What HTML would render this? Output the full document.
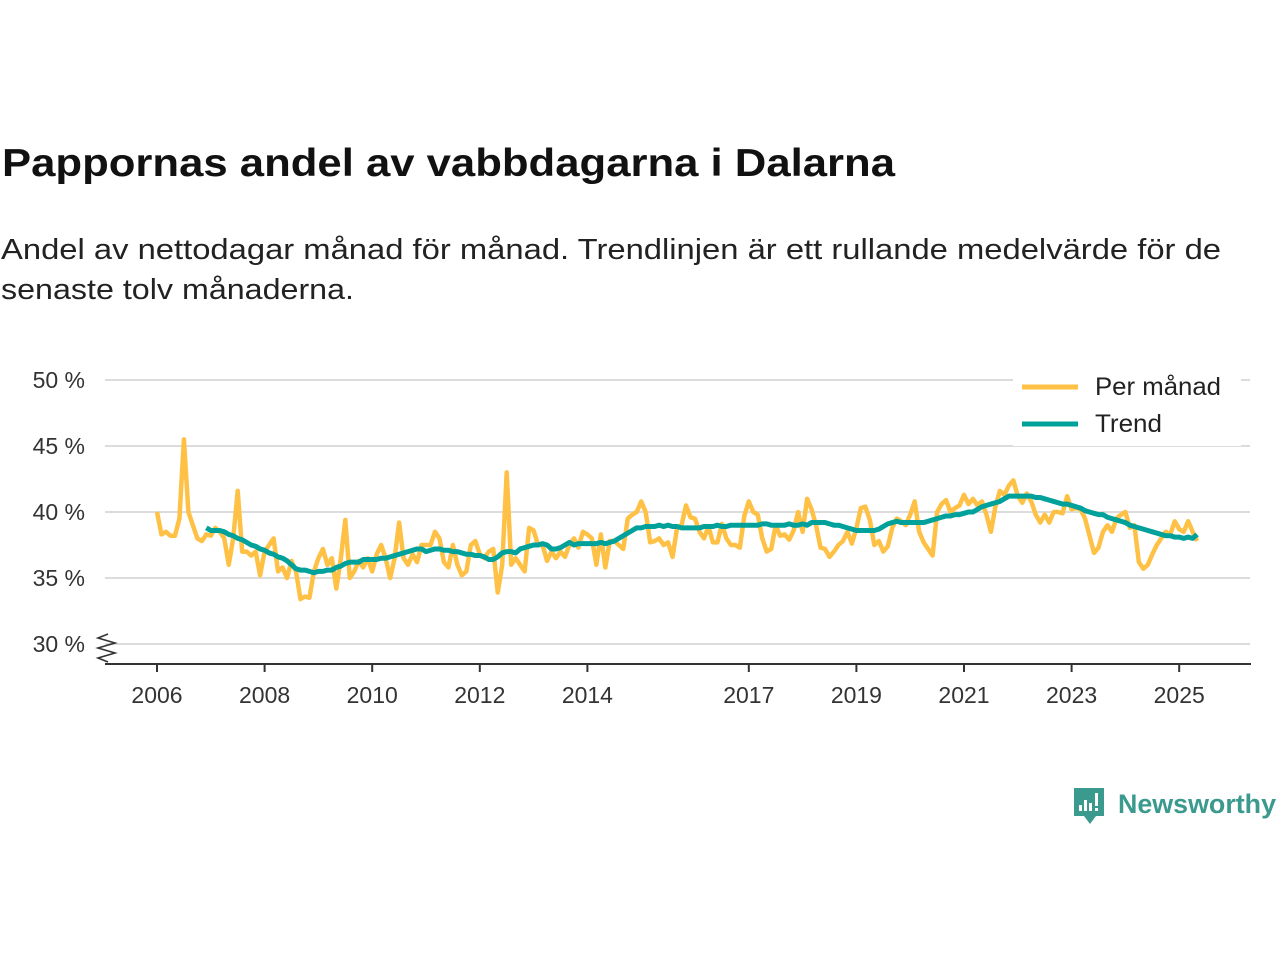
<!DOCTYPE html>
<html><head><meta charset="utf-8"><style>
body{margin:0;background:#fff;width:1280px;height:960px;overflow:hidden;font-family:"Liberation Sans",sans-serif;}
</style></head><body>
<svg id="chart" width="1280" height="960">
<text x="2" y="176" font-size="39" font-weight="bold" fill="#111" textLength="893" lengthAdjust="spacingAndGlyphs">Pappornas andel av vabbdagarna i Dalarna</text>
<text x="1" y="259" font-size="29" fill="#222" textLength="1220" lengthAdjust="spacingAndGlyphs">Andel av nettodagar månad för månad. Trendlinjen är ett rullande medelvärde för de</text>
<text x="1" y="299" font-size="29" fill="#222" textLength="353" lengthAdjust="spacingAndGlyphs">senaste tolv månaderna.</text>
<g id="grid"></g><g id="series"></g>
<g>
<rect x="1013" y="368" width="228" height="78" fill="#fff"/>
<line x1="1022" y1="387" x2="1078" y2="387" stroke="#ffc145" stroke-width="5"/>
<text x="1095" y="395" font-size="25" fill="#222" textLength="126" lengthAdjust="spacingAndGlyphs">Per månad</text>
<line x1="1022" y1="424" x2="1078" y2="424" stroke="#00a19a" stroke-width="5"/>
<text x="1095" y="432" font-size="25" fill="#222" textLength="67" lengthAdjust="spacingAndGlyphs">Trend</text>
</g>
<path d="M108 634 L98 638 L115 643 L98 648 L115 653 L98 658 L108 662" fill="none" stroke="#333" stroke-width="1.6"/>
<g>
<path d="M1074 788 h30 v28 h-8 l-6 8 l-6 -8 h-10 z" fill="#3a9a8e"/>
<rect x="1079" y="805" width="3" height="6" fill="#fff"/><rect x="1084" y="800" width="3" height="11" fill="#fff"/><rect x="1089" y="803" width="3" height="8" fill="#fff"/><rect x="1095" y="793" width="3" height="13" fill="#fff"/><rect x="1095" y="808" width="3" height="3" fill="#fff"/>
<text x="1118" y="813" font-size="27" font-weight="bold" fill="#3a9a8e" textLength="158" lengthAdjust="spacingAndGlyphs">Newsworthy</text>
</g>
</svg>
<script>
const startYear = 2006;
const yTicks = [30, 35, 40, 45, 50];
const xTickYears = [2006, 2008, 2010, 2012, 2014, 2017, 2019, 2021, 2023, 2025];
const monthly = [
40.0,38.3,38.5,38.2,38.2,39.5,45.5,40.0,39.0,38.0,37.8,38.3,
38.2,38.8,38.5,38.0,36.0,38.0,41.6,37.0,37.0,36.7,37.0,35.2,
37.0,37.5,38.0,35.5,35.8,35.0,36.3,35.5,33.4,33.6,33.5,35.5,
36.5,37.2,36.0,36.5,34.2,36.5,39.4,35.0,35.5,36.3,35.8,36.5,
35.5,36.8,37.5,36.5,35.0,36.5,39.2,36.5,36.0,36.8,36.2,37.5,
37.5,37.5,38.5,38.0,36.2,35.8,37.5,36.0,35.2,35.5,37.5,37.8,
36.8,36.5,37.0,37.2,33.9,36.0,43.0,36.0,36.5,36.0,35.5,38.8,
38.6,37.5,37.5,36.3,37.0,36.5,37.0,36.6,37.5,38.0,37.3,38.5,
38.3,38.0,36.0,38.3,35.8,37.8,37.8,37.5,37.2,39.5,39.8,40.0,
40.8,40.0,37.7,37.8,38.0,37.5,37.7,36.6,38.8,39.0,40.5,39.6,
39.5,38.5,38.0,38.9,37.7,37.7,39.1,38.0,37.5,37.5,37.3,39.7,
40.8,40.0,39.8,38.0,37.0,37.2,39.0,38.2,38.3,37.9,38.6,40.0,
38.5,41.0,40.2,39.0,37.3,37.2,36.6,37.0,37.5,37.8,38.5,37.6,
38.8,40.3,40.4,39.4,37.5,37.8,37.0,37.4,38.8,39.5,39.3,39.0,
39.8,40.8,38.5,37.7,37.2,36.7,40.0,40.6,40.9,40.0,40.3,40.5,
41.3,40.6,41.0,40.5,40.8,39.8,38.5,40.4,41.6,41.3,42.0,42.4,
41.2,40.7,41.4,40.8,39.8,39.2,39.8,39.2,40.0,40.0,39.9,41.2,
40.2,40.3,40.2,39.5,38.2,36.9,37.3,38.5,39.0,38.5,39.5,39.8,
40.0,38.8,39.0,36.2,35.7,36.0,36.8,37.5,38.0,38.5,38.3,39.3,
38.7,38.5,39.3,38.5,37.8];
const trendStart = 11;
const trend = [38.8,
38.6,38.6,38.6,38.5,38.3,38.2,38.0,37.9,37.7,37.5,37.4,37.2,
37.1,36.9,36.8,36.6,36.5,36.3,36.0,35.7,35.6,35.6,35.5,35.4,
35.5,35.5,35.6,35.6,35.8,35.9,36.1,36.2,36.2,36.2,36.4,36.4,
36.4,36.4,36.5,36.5,36.6,36.7,36.8,36.9,37.0,37.1,37.2,37.2,
37.0,37.1,37.2,37.2,37.1,37.1,37.0,37.0,36.9,36.8,36.8,36.7,
36.7,36.6,36.4,36.4,36.6,36.9,37.0,37.0,36.9,37.2,37.3,37.4,
37.5,37.5,37.6,37.5,37.2,37.2,37.3,37.5,37.7,37.5,37.6,37.6,
37.6,37.6,37.6,37.7,37.6,37.7,37.8,38.0,38.2,38.4,38.6,38.8,
38.8,38.9,38.9,38.9,39.0,38.9,39.0,38.9,38.9,38.8,38.8,38.8,
38.8,38.8,38.9,38.9,38.9,39.0,38.9,38.9,39.0,39.0,39.0,39.0,
39.0,39.0,39.0,39.1,39.1,39.0,39.0,39.0,39.0,39.1,39.0,39.0,
39.1,39.0,39.2,39.2,39.2,39.2,39.1,39.0,39.0,38.9,38.8,38.7,
38.6,38.6,38.6,38.6,38.6,38.7,38.9,39.1,39.2,39.3,39.2,39.2,
39.2,39.2,39.2,39.2,39.3,39.4,39.5,39.6,39.7,39.7,39.8,39.8,
39.9,40.0,40.0,40.2,40.4,40.5,40.6,40.7,40.8,41.0,41.2,41.2,
41.2,41.2,41.2,41.2,41.1,41.1,41.0,40.9,40.8,40.7,40.6,40.6,
40.5,40.4,40.3,40.1,40.0,39.9,39.8,39.8,39.6,39.5,39.4,39.3,
39.2,39.0,38.9,38.8,38.7,38.6,38.5,38.4,38.3,38.2,38.2,38.1,
38.1,38.0,38.1,38.0,38.3];
const NS="http://www.w3.org/2000/svg";
const yScale = v => 644 - (v - 30) * 13.2;
const xScale = m => 157 + m * (53.8 / 12);
const grid = document.getElementById('grid'), series = document.getElementById('series');
function mk(tag, attrs, parent){const e=document.createElementNS(NS,tag);for(const k in attrs)e.setAttribute(k,attrs[k]);parent.appendChild(e);return e;}
yTicks.forEach(t=>{
  const l=mk('line',{x1:105,x2:1250,y1:yScale(t),y2:yScale(t),stroke:'#dcdcdc','stroke-width':2},grid);
  
  
  const tx=mk('text',{x:85,y:yScale(t)+8,'font-size':23,'text-anchor':'end',fill:'#333'},grid);
  tx.textContent=t+' %';
  
  
});
const ax=mk('line',{x1:105,x2:1251,y1:664,y2:664,stroke:'#333','stroke-width':2},grid);


xTickYears.forEach(yr=>{
  const x=xScale((yr-startYear)*12);
  const tk=mk('line',{x1:x,x2:x,y1:664,y2:672,stroke:'#333','stroke-width':2},grid);
  
  
  const tx=mk('text',{x:x,y:703,'font-size':23,'text-anchor':'middle',fill:'#333'},grid);
  tx.textContent=yr;
  
  
});
const p1=mk('polyline',{points:monthly.map((v,i)=>xScale(i)+','+yScale(v)).join(' '),fill:'none',stroke:'#ffc145','stroke-width':4.5,'stroke-linejoin':'round'},series);


const p2=mk('polyline',{points:trend.map((v,i)=>xScale(i+trendStart)+','+yScale(v)).join(' '),fill:'none',stroke:'#00a19a','stroke-width':5,'stroke-linejoin':'round'},series);


</script>
</body></html>
